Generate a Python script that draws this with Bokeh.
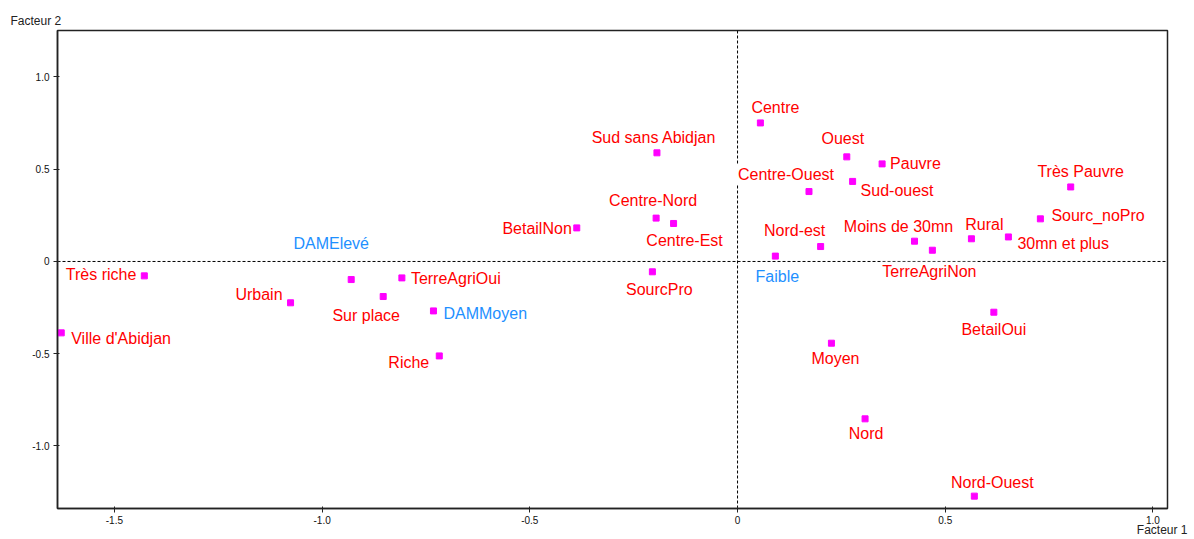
from bokeh.plotting import figure
from bokeh.models import Range1d, FixedTicker, Span, Title, ColumnDataSource
from bokeh.core.properties import value
from bokeh.embed import file_html
from bokeh.resources import INLINE

# ---- data (factor coordinates) ----
modalites = ["Très riche", "Ville d'Abidjan", "Urbain", "Sur place", "DAMElevé",
             "TerreAgriOui", "DAMMoyen", "Riche", "BetailNon", "Sud sans Abidjan",
             "Centre-Nord", "Centre-Est", "SourcPro", "Centre", "Ouest",
             "Pauvre", "Centre-Ouest", "Sud-ouest", "Très Pauvre", "Sourc_noPro",
             "Nord-est", "Faible", "Moins de 30mn", "TerreAgriNon", "Rural",
             "30mn et plus", "BetailOui", "Moyen", "Nord", "Nord-Ouest"]
facteur1 = [-1.428, -1.628, -1.076, -0.853, -0.930,
            -0.808, -0.732, -0.718, -0.387, -0.194,
            -0.196, -0.154, -0.205, 0.055, 0.263,
            0.348, 0.172, 0.277, 0.802, 0.729,
            0.200, 0.091, 0.426, 0.469, 0.563,
            0.652, 0.617, 0.226, 0.307, 0.570]
facteur2 = [-0.078, -0.387, -0.224, -0.190, -0.098,
            -0.089, -0.268, -0.512, 0.182, 0.589,
            0.235, 0.206, -0.056, 0.751, 0.567,
            0.529, 0.379, 0.434, 0.404, 0.231,
            0.081, 0.029, 0.110, 0.061, 0.123,
            0.133, -0.275, -0.443, -0.853, -1.272]
modalites_bleues = ["DAMElevé", "DAMMoyen", "Faible"]

x_ticks = [-1.5, -1.0, -0.5, 0, 0.5, 1.0]
x_tick_labels = ["-1.5", "-1.0", "-0.5", "0", "0.5", "1.0"]
y_ticks = [-1.0, -0.5, 0, 0.5, 1.0]
y_tick_labels = ["-1.0", "-0.5", "0", "0.5", "1.0"]

# ---- label placement (screen pixels: align, dx, dy-down) ----
placement = [("right", -7, -1), ("left", 9, 6), ("right", -7, -8), ("center", -17, 19),
             ("center", -20, -36), ("left", 8, 1), ("left", 9, 3), ("right", -9, 7),
             ("right", -4, 1), ("center", -3, -15), ("center", -3, -18), ("center", 11, 17),
             ("center", 7, 18), ("center", 15, -15), ("center", -4, -18), ("left", 7, 0),
             ("center", -23, -17), ("left", 7, 9), ("center", 10, -15), ("left", 10, -3),
             ("center", -26, -16), ("center", 2, 20), ("center", -16, -15), ("center", -3, 21),
             ("center", 13, -14), ("left", 8, 7), ("center", 0, 17), ("center", 4, 15),
             ("center", 1, 15), ("center", 18, -14)]

colors = ["#1E90FF" if m in modalites_bleues else "#FF0000" for m in modalites]
src = ColumnDataSource(dict(
    x=facteur1, y=facteur2, name=modalites, color=colors,
    align=[p[0] for p in placement],
    dx=[p[1] for p in placement],
    dy=[p[2] for p in placement],
))

FW, FH = 1110, 478
p = figure(frame_width=FW, frame_height=FH,
           min_border_left=57, min_border_right=27, min_border_top=30, min_border_bottom=31,
           x_range=Range1d(-1.637, 1.035), y_range=Range1d(-1.339, 1.252),
           output_backend="svg", toolbar_location=None, tools="")
p.xgrid.visible = False
p.ygrid.visible = False
p.outline_line_color = "#222222"
p.outline_line_width = 1.5
p.background_fill_color = "white"
p.border_fill_color = "white"

for ax, ticks, labels in ((p.xaxis[0], x_ticks, x_tick_labels), (p.yaxis[0], y_ticks, y_tick_labels)):
    ax.ticker = FixedTicker(ticks=ticks)
    ax.major_label_overrides = {t: l for t, l in zip(ticks, labels)}
    ax.minor_tick_line_color = None
    ax.major_tick_out = 4
    ax.major_tick_in = 2
    ax.axis_line_color = "#222222"
    ax.axis_line_width = 1.5
    ax.major_tick_line_color = "#222222"
    ax.major_label_text_font = "Liberation Sans"
    ax.major_label_text_font_size = "10px"
    ax.major_label_text_color = "#111111"
p.xaxis.major_label_standoff = 3
p.yaxis.major_label_standoff = 4

# dashed zero lines (under the labels)
p.add_layout(Span(location=0, dimension="width", line_color="black", line_width=1,
                  line_dash="3 2", level="underlay"))
p.add_layout(Span(location=0, dimension="height", line_color="black", line_width=1,
                  line_dash="3 2", level="underlay"))

p.text(x="x", y="y", text="name", source=src, text_color="color",
       text_align="align", text_baseline="middle", x_offset="dx", y_offset="dy",
       text_font=value("Liberation Sans"), text_font_size="16px",
       background_fill_color="white", padding=1)

p.scatter(x="x", y="y", source=src, marker="square", size=6,
          fill_color="#FF00FF", line_color="#FF00FF")

p.add_layout(Title(text="Facteur 2", align="left", offset=-47, standoff=6,
                   text_font="Liberation Sans", text_font_size="12px",
                   text_font_style="normal", text_color="#222222"), "above")
p.add_layout(Title(text="Facteur 1", align="right", offset=-20, standoff=-12,
                   text_font="Liberation Sans", text_font_size="12px",
                   text_font_style="normal", text_color="#222222"), "below")

open("out.html", "w").write(file_html(p, INLINE))
